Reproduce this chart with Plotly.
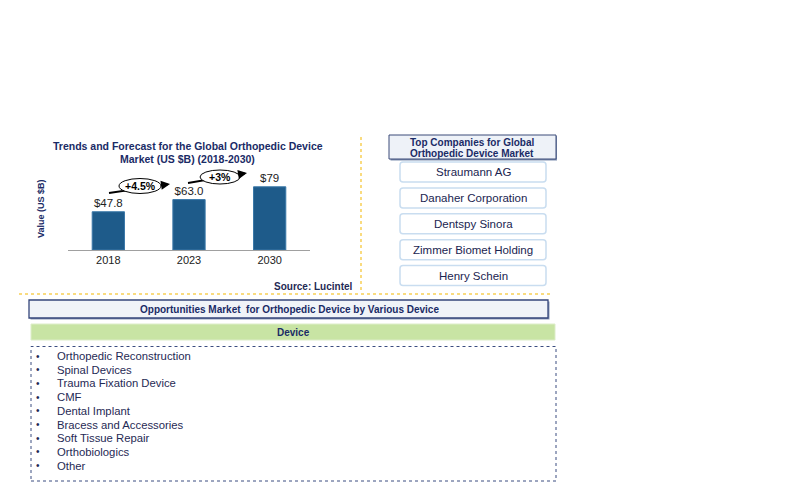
import plotly.graph_objects as go

# ---------------- data ----------------
years = ["2018", "2023", "2030"]
values = [47.8, 63.0, 79.0]
value_labels = ["$47.8", "$63.0", "$79"]
cagr_labels = ["+4.5%", "+3%"]
chart_title = ["Trends and Forecast for the Global Orthopedic Device",
               "Market (US $B) (2018-2030)"]
y_title = "Value (US $B)"
source_text = "Source: Lucintel"
companies_title = ["Top Companies for Global", "Orthopedic Device Market"]
companies = ["Straumann AG", "Danaher Corporation", "Dentspy Sinora",
             "Zimmer Biomet Holding", "Henry Schein"]
opp_title = "Opportunities Market  for Orthopedic Device by Various Device"
segment_title = "Device"
devices = ["Orthopedic Reconstruction", "Spinal Devices", "Trauma Fixation Device",
           "CMF", "Dental Implant", "Bracess and Accessories", "Soft Tissue Repair",
           "Orthobiologics", "Other"]

OFF = 8  # page margin around the plot div
W, H = 800 - 2 * OFF, 490 - 2 * OFF
NAVY = "#1A2B66"
TXT = "#1F2A55"
FONT = "Liberation Sans, Arial, sans-serif"


def px(x):
    return (x - OFF) / W


def py(y):
    return 1 - (y - OFF) / H


def rrect_path(x0, y0, x1, y1, r):
    rx, ry = r / W, r / H
    X0, X1 = px(x0), px(x1)
    Y0, Y1 = py(y0), py(y1)
    return (f"M {X0+rx},{Y0} L {X1-rx},{Y0} Q {X1},{Y0} {X1},{Y0-ry} "
            f"L {X1},{Y1+ry} Q {X1},{Y1} {X1-rx},{Y1} L {X0+rx},{Y1} "
            f"Q {X0},{Y1} {X0},{Y1+ry} L {X0},{Y0-ry} Q {X0},{Y0} {X0+rx},{Y0} Z")


annotations = []
shapes = []


def ann(x, y, text, size, color, xanchor="center", yanchor="middle", **kw):
    annotations.append(dict(xref="paper", yref="paper", x=px(x), y=py(y), text=text,
                            showarrow=False, xanchor=xanchor, yanchor=yanchor,
                            font=dict(family=FONT, size=size, color=color), **kw))


def rect(x0, y0, x1, y1, fill, line, **kw):
    shapes.append(dict(type="rect", xref="paper", yref="paper", x0=px(x0), x1=px(x1),
                       y0=py(y1), y1=py(y0), fillcolor=fill, line=line, **kw))


fig = go.Figure()
fig.add_trace(go.Bar(
    x=years, y=values, text=value_labels, textposition="outside",
    textfont=dict(family=FONT, size=11.5, color="#222222"),
    marker=dict(color="#1E5B8A", line=dict(color="#3A78A8", width=1)),
    cliponaxis=False, hoverinfo="skip",
))

# --- CAGR arrows with ellipses ---
arrows = [((109, 193), (170, 184), (140, 186), 42, 15),
          ((188, 183), (247, 173), (220, 177), 40, 14)]
for (t, h, c, ew, eh), lab in zip(arrows, cagr_labels):
    shapes.append(dict(type="line", xref="paper", yref="paper",
                       x0=px(t[0]), y0=py(t[1]), x1=px(h[0] - 4), y1=py(h[1] + 0.6),
                       line=dict(color="black", width=1.8), layer="above"))
    shapes.append(dict(type="circle", xref="paper", yref="paper",
                       x0=px(c[0] - ew / 2), x1=px(c[0] + ew / 2),
                       y0=py(c[1] + eh / 2), y1=py(c[1] - eh / 2),
                       fillcolor="white", line=dict(color="black", width=1), layer="above"))
    dx, dy = t[0] - h[0], t[1] - h[1]
    L = (dx * dx + dy * dy) ** 0.5
    annotations.append(dict(xref="paper", yref="paper", x=px(h[0]), y=py(h[1]),
                            ax=dx / L * 9, ay=dy / L * 9, text="", showarrow=True,
                            arrowhead=2, arrowsize=1, arrowwidth=1.8, arrowcolor="black"))
    ann(c[0], c[1], f"<b>{lab}</b>", 10.5, "black")

# --- chart titles ---
ann(187.5, 145.5, f"<b>{chart_title[0]}</b>", 10.5, NAVY)
ann(187, 158.5, f"<b>{chart_title[1]}</b>", 10.5, NAVY)
ann(41, 209, f"<b>{y_title}</b>", 9, NAVY, textangle=-90)
ann(355, 286, f"<b>{source_text}</b>", 10, TXT, xanchor="right")

# --- yellow dotted separators ---
shapes.append(dict(type="line", xref="paper", yref="paper", x0=px(361), x1=px(361),
                   y0=py(137), y1=py(293), line=dict(color="#F7CF55", width=1.5, dash="dot")))
shapes.append(dict(type="line", xref="paper", yref="paper", x0=px(19), x1=px(550),
                   y0=py(294), y1=py(294), line=dict(color="#F7CF55", width=1.5, dash="dot")))

# --- companies panel ---
rect(390.5, 136, 557, 160.5, "#7F8FAF", dict(width=0))
rect(389, 135, 556, 159, "#EEF2F8", dict(color="#3B4A78", width=1))
ann(472.5, 142, f"<b>{companies_title[0]}</b>", 10, NAVY)
ann(472.5, 153.5, f"<b>{companies_title[1]}</b>", 10, NAVY)
for i, name in enumerate(companies):
    yc = 172 + 25.9 * i
    shapes.append(dict(type="path", xref="paper", yref="paper",
                       path=rrect_path(400, yc - 10, 546, yc + 10, 3),
                       fillcolor="white", line=dict(color="#C9DDF0", width=1.5)))
    ann(473, yc, name, 11.5, "#1A2450")

# --- opportunities panel ---
rect(30.5, 301.5, 549.5, 319.5, "#8C9AB8", dict(width=0))
rect(29, 300, 548, 318, "#F0F3F8", dict(color="#34457A", width=1.3))
ann(289, 309.5, f"<b>{opp_title}</b>", 10, NAVY)
rect(31, 324, 555, 340, "#C8E4A4", dict(color="#DDEDC9", width=1))
ann(293, 332, f"<b>{segment_title}</b>", 10, NAVY)
rect(31, 346.5, 556, 481, "white", dict(color="#3B4C80", width=1, dash="dot"))
for i, d in enumerate(devices):
    yc = 356 + 13.7 * i
    ann(38, yc, "•", 10, TXT)
    ann(55, yc, d, 11.3, TXT, xanchor="left")

fig.update_layout(
    width=W, height=H, autosize=False,
    margin=dict(l=0, r=0, t=0, b=0),
    paper_bgcolor="white", plot_bgcolor="white",
    showlegend=False, bargap=0.6,
    xaxis=dict(domain=[px(68), px(310)], showline=True, linecolor="#A0A0A0", linewidth=1,
               ticks="", showgrid=False, tickfont=dict(family=FONT, size=11, color="#222222"),
               fixedrange=True),
    yaxis=dict(domain=[py(250), py(170)], range=[0, 100], visible=False, fixedrange=True),
    shapes=shapes, annotations=annotations,
)

fig.write_html("out.html")
